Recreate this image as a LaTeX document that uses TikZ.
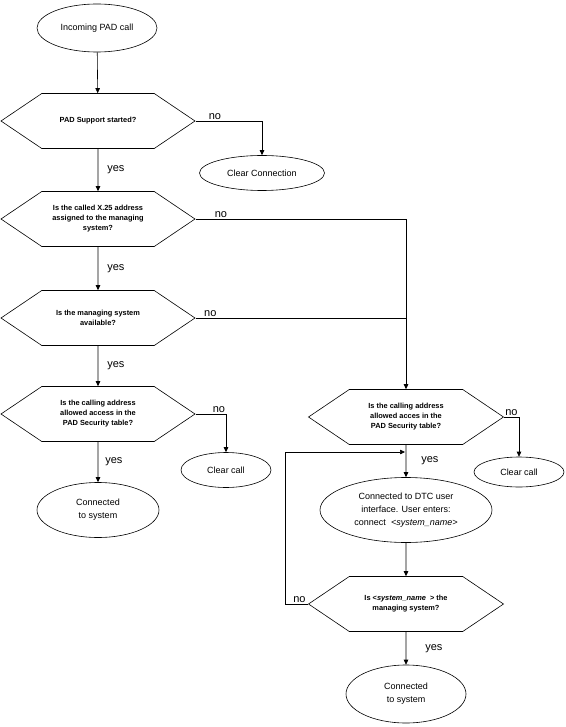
\documentclass[tikz,border=0pt]{standalone}
\usepackage{fontspec}
\setmainfont{Liberation Sans}
\usetikzlibrary{shapes.geometric,shapes.symbols,arrows.meta}
\tikzset{
  base/.style={draw, align=center, inner sep=1pt, font=\fontsize{9}{13}\selectfont},
  term/.style={base, ellipse},
  test/.style={base, signal, signal to=east and west, signal pointer angle=68,
    minimum width=194pt, minimum height=55pt, font=\fontsize{7.4}{10}\selectfont\bfseries},
  lbl/.style={font=\fontsize{11}{11}\selectfont, inner sep=1pt},
  flow/.style={-{Triangle[length=5pt,width=4.5pt]}}
}
\begin{document}
\begin{tikzpicture}[x=1pt,y=-1pt,line width=0.6pt]
  \useasboundingbox (0,0) rectangle (565,727);
  % left column
  \node[term, minimum width=120pt, minimum height=48pt] (start) at (97,28) {Incoming PAD call};
  \node[test] (q1) at (98,121) {PAD Support started?};
  \node[term, minimum width=125pt, minimum height=35pt] (clr1) at (262,173) {Clear Connection};
  \node[test] (q2) at (98,219) {Is the called X.25 address\\assigned to the managing\\system?};
  \node[test] (q3) at (98,318) {Is the managing system\\available?};
  \node[test] (q4) at (98,414) {Is the calling address\\allowed access in the\\PAD Security table?};
  \node[term, minimum width=90pt, minimum height=35pt] (clr2) at (226,470) {Clear call};
  \node[term, minimum width=122pt, minimum height=55pt] (conn1) at (98,510) {Connected\\to system};
  % right column
  \node[test, minimum width=195pt] (q4r) at (406,417) {Is the calling address\\allowed acces in the\\PAD Security table?};
  \node[term, minimum width=90pt, minimum height=30pt] (clr3) at (519,472) {Clear call};
  \node[term, minimum width=172pt, minimum height=65pt] (dtc) at (406,510)
    {Connected to DTC user\\interface. User enters:\\connect \ \textit{<system\_name>}};
  \node[test, minimum width=195pt] (q5) at (406,604) {Is <\textit{system\_name} \ > the\\managing system?};
  \node[term, minimum width=120pt, minimum height=58pt] (conn2) at (406,694) {Connected\\to system};
  \coordinate (join) at (406,452);

  % connectors
  \draw[flow] (start) -- (q1);
  \draw[flow] (q1.east) -| node[lbl, pos=0, anchor=south west, xshift=12pt] {no} (clr1);
  \draw[flow] (q1) -- node[lbl, right=8pt] {yes} (q2);
  \draw[flow] (q2.east) -| node[lbl, pos=0, anchor=south west, xshift=18pt] {no} (q4r);
  \draw[flow] (q2) -- node[lbl, right=8pt] {yes} (q3);
  \draw (q3.east) -- node[lbl, pos=0.07, above] {no} (q3.east -| q4r.north);
  \draw[flow] (q3) -- node[lbl, right=8pt] {yes} (q4);
  \draw[flow] (q4.east) -| node[lbl, pos=0, anchor=south west, xshift=16pt] {no} (clr2);
  \draw[flow] (q4) -- node[lbl, right=6pt] {yes} (conn1);
  \draw[flow] (q4r.east) -| node[lbl, pos=0, anchor=south west, xshift=0pt] {no} (clr3);
  \draw[flow] (q4r) -- node[lbl, right=14pt] {yes} (dtc);
  \draw[flow] (dtc) -- (q5);
  \draw[flow] (q5.west) -- node[lbl, pos=0.05, above left] {no} ++(-23,0) |- ([xshift=-1pt]join);
  \draw[flow] (q5) -- node[lbl, right=18pt] {yes} (conn2);
\end{tikzpicture}
\end{document}
